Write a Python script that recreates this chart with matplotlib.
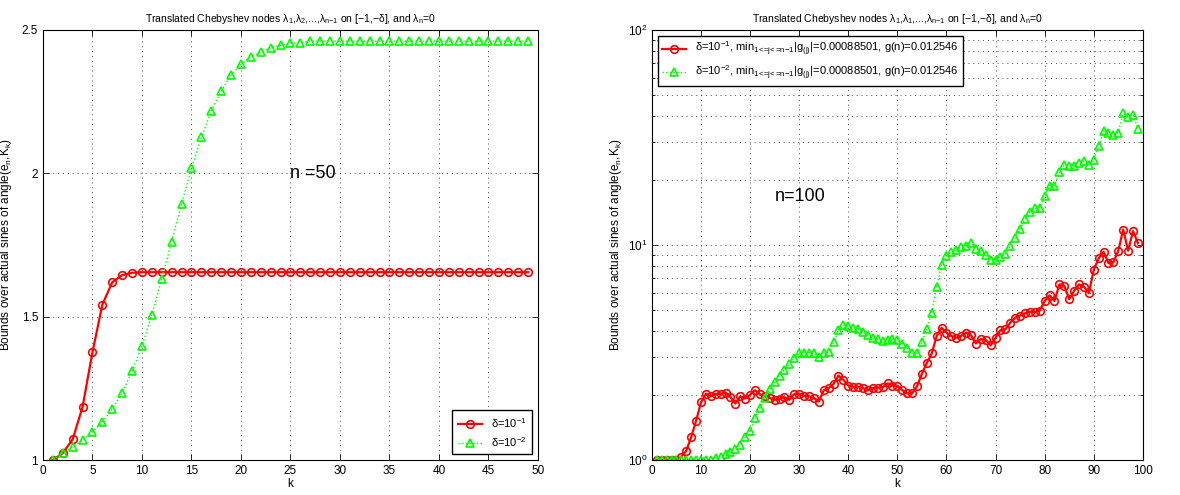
import matplotlib
matplotlib.use('Agg')
import matplotlib.pyplot as plt
import numpy as np

plt.rcParams['font.family'] = ['Liberation Sans', 'DejaVu Sans']
plt.rcParams['mathtext.default'] = 'regular'
plt.rcParams['axes.unicode_minus'] = True

# ---------------- data: n = 50 ----------------
k50 = list(range(1, 50))
red50 = [1.0, 1.024, 1.072, 1.185, 1.376, 1.542, 1.62, 1.645, 1.653] + [1.655] * 40
green50 = [1.0, 1.025, 1.046, 1.069, 1.098, 1.132, 1.178, 1.235, 1.309, 1.398,
           1.507, 1.631, 1.762, 1.893, 2.018, 2.125, 2.218, 2.287, 2.343, 2.380,
           2.407, 2.424, 2.438, 2.447, 2.453, 2.456] + [2.461] * 23

# ---------------- data: n = 100 ----------------
k100 = list(range(1, 100))
red100 = [1.0, 1.0, 1.0, 1.0, 1.0, 1.036, 1.105, 1.277, 1.526, 1.853,
          2.035, 1.977, 2.03, 2.03, 2.06, 1.96, 1.83, 1.977, 1.93, 2.01,
          2.11, 2.02, 1.98, 1.94, 1.906, 1.92, 1.96, 1.906, 2.03, 2.03,
          1.99, 1.98, 1.94, 1.87, 2.11, 2.16, 2.26, 2.47, 2.36, 2.22,
          2.18, 2.19, 2.16, 2.11, 2.16, 2.17, 2.18, 2.27, 2.22, 2.21,
          2.11, 2.04, 2.04, 2.2, 2.52, 2.83, 3.13, 3.77, 4.12, 3.91,
          3.77, 3.70, 3.78, 3.91, 3.80, 3.48, 3.65, 3.62, 3.41, 3.70,
          4.02, 4.05, 4.35, 4.59, 4.70, 4.81, 4.90, 4.87, 4.95, 5.49,
          5.83, 5.49, 6.56, 6.46, 5.60, 6.12, 6.56, 6.40, 5.97, 7.66,
          8.67, 9.30, 8.23, 8.30, 9.40, 11.8, 9.40, 11.6, 10.2]
green100 = [1.0, 1.0, 1.0, 1.0, 1.0, 1.0, 1.0, 1.0, 1.0, 1.0,
            1.0, 1.005, 1.02, 1.035, 1.067, 1.09, 1.12, 1.175, 1.277, 1.366,
            1.566, 1.744, 1.94, 2.14, 2.30, 2.47, 2.63, 2.81, 2.98, 3.13,
            3.16, 3.16, 3.14, 3.0, 3.14, 3.17, 3.53, 4.02, 4.23, 4.20,
            4.12, 4.08, 3.95, 3.82, 3.70, 3.64, 3.58, 3.61, 3.64, 3.61,
            3.48, 3.31, 3.14, 3.14, 3.52, 4.05, 4.84, 6.41, 8.06, 8.9,
            9.3, 9.5, 9.75, 9.9, 10.2, 9.6, 9.4, 8.97, 8.54, 8.54,
            8.8, 9.1, 9.9, 10.8, 11.9, 13.2, 14.3, 14.8, 14.9, 16.9,
            18.9, 18.9, 21.8, 23.6, 23.4, 23.4, 24.1, 24.6, 23.6, 24.9,
            28.9, 33.8, 33.3, 32.4, 33.3, 40.9, 39.5, 40.4, 34.8]

fig = plt.figure(figsize=(11.8, 4.95), dpi=100)
ax1 = fig.add_axes([0.0364, 0.0707, 0.4195, 0.8687])
ax2 = fig.add_axes([0.5525, 0.0707, 0.416, 0.8687])

ylab = 'Bounds over actual sines of angle(e$_n$,K$_k$)'
sub = '$_{1\\!<\\!\\!=\\!j\\!<\\!\\!=\\!n{-}1}$'

# left panel
ax1.plot(k50, red50, color='r', ls='-', lw=1.6, marker='o', ms=5.5,
         mfc='none', mew=1.2, label='δ=10$^{-1}$')
ax1.plot(k50, green50, color=(0, 1, 0), ls=':', lw=1.0, marker='^', ms=6,
         mfc='none', mew=1.2, label='δ=10$^{-2}$')
ax1.set_xlim(0, 50)
ax1.set_ylim(1, 2.5)
ax1.set_xticks(range(0, 51, 5))
ax1.set_yticks([1, 1.5, 2, 2.5])
ax1.set_yticklabels(['1', '1.5', '2', '2.5'])
ax1.set_title('Translated Chebyshev nodes λ$_1$,λ$_2$,...,λ$_{n{-}1}$ on [−1,−δ], and λ$_n$=0',
              fontsize=7.5, pad=6)
ax1.text(25, 2.0, 'n =50', fontsize=13, va='center', ha='left')
ax1.legend(loc='lower right', fontsize=8, fancybox=False, edgecolor='k',
           framealpha=1, handlelength=2.2, borderpad=0.5)
ax1.yaxis.set_label_coords(-0.058, 0.5)

# right panel
ax2.semilogy(k100, red100, color='r', ls='-', lw=1.6, marker='o', ms=5.5,
             mfc='none', mew=1.2,
             label='δ=10$^{-1}$, min' + sub + '|g$_{(j)}$|=0.00088501, g(n)=0.012546')
ax2.semilogy(k100, green100, color=(0, 1, 0), ls=':', lw=1.0, marker='^', ms=6,
             mfc='none', mew=1.2,
             label='δ=10$^{-2}$, min' + sub + '|g$_{(j)}$|=0.00088501, g(n)=0.012546')
ax2.set_xlim(0, 100)
ax2.set_ylim(1, 100)
ax2.set_xticks(range(0, 101, 10))
ax2.set_title('Translated Chebyshev nodes λ$_1$,λ$_1$,...,λ$_{n{-}1}$ on [−1,−δ], and λ$_n$=0',
              fontsize=7.5, pad=6)
ax2.text(25, 16.8, 'n=100', fontsize=13, va='center', ha='left')
ax2.legend(loc='upper left', fontsize=8, fancybox=False, edgecolor='k',
           framealpha=1, handlelength=2.2, borderpad=0.4)
ax2.yaxis.set_label_coords(-0.056, 0.5)

for ax in (ax1, ax2):
    ax.set_xlabel('k', fontsize=8.5, labelpad=1)
    ax.set_ylabel(ylab, fontsize=8.5)
    ax.tick_params(direction='in', top=True, right=True, labelsize=8.5,
                   length=4, width=0.6)
    ax.tick_params(which='minor', direction='in', top=True, right=True,
                   length=2, width=0.6)
    ax.grid(True, which='major', ls=(0, (1, 4)), color='k', lw=0.7, alpha=0.7)
    for s in ax.spines.values():
        s.set_linewidth(0.8)
ax2.grid(True, which='minor', ls=(0, (1, 4)), color='k', lw=0.7, alpha=0.7)

fig.savefig('out.png', dpi=100)
